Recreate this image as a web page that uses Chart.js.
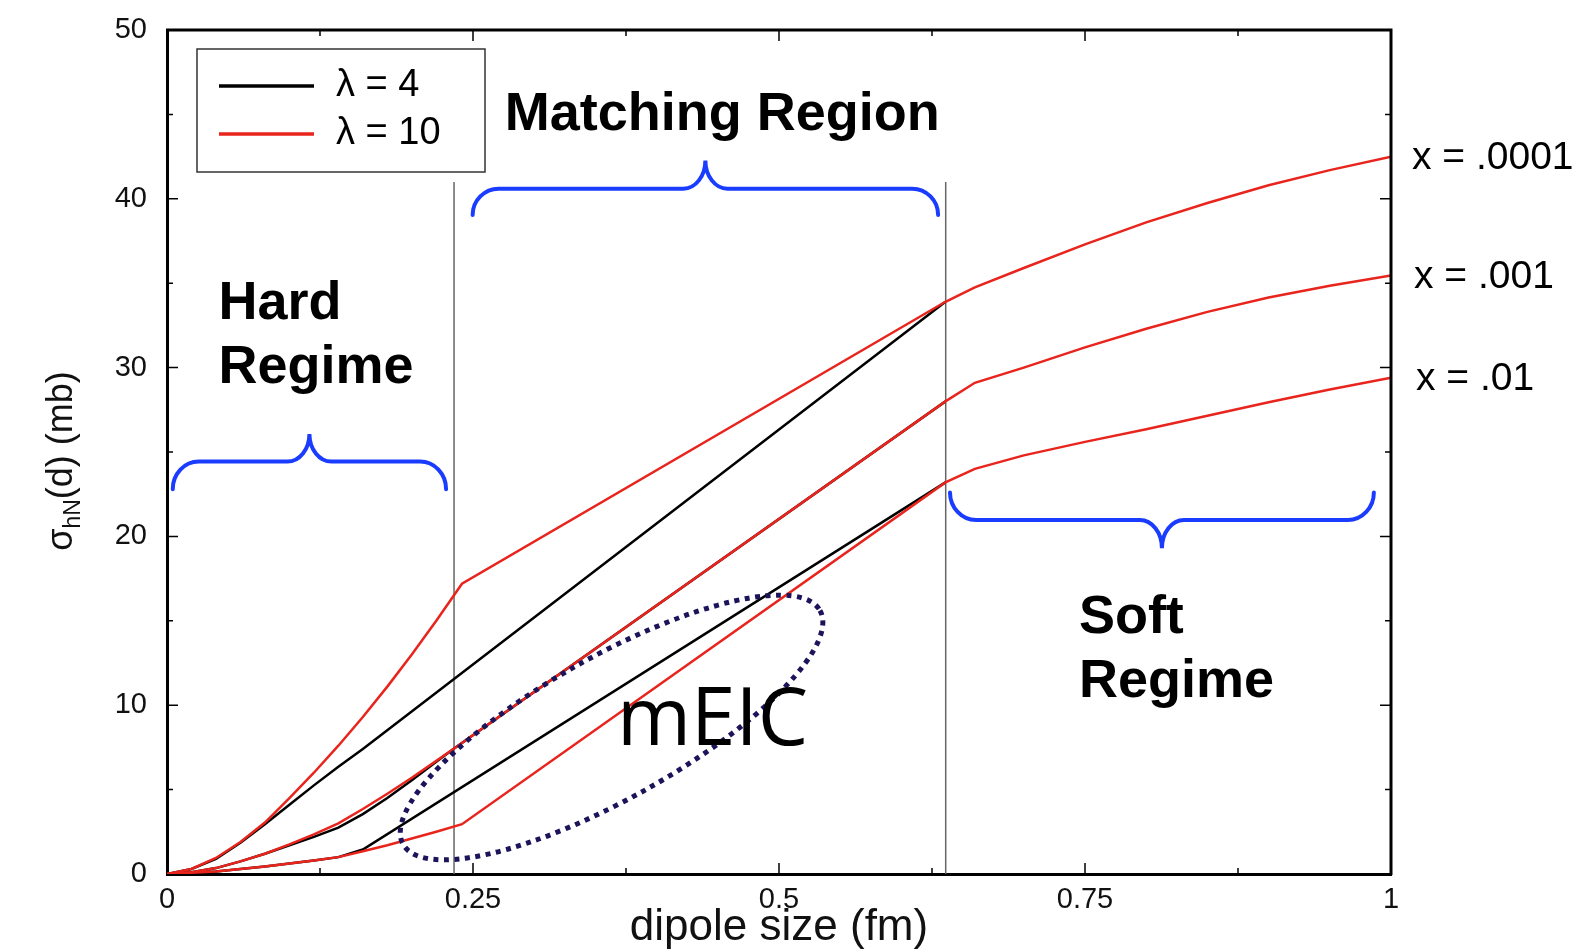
<!DOCTYPE html>
<html>
<head>
<meta charset="utf-8">
<script src="https://cdn.jsdelivr.net/npm/chart.js@4.4.1/dist/chart.umd.min.js"></script>
<style>
  body { margin: 0; background: #fff; }
  #wrap { width: 1593px; height: 951px; }
</style>
</head>
<body>
<div id="wrap"><canvas id="chartDipole"></canvas></div>
<script>
var chartDipole

// curve labels (right side) and legend labels
var xLabels = ['x = .0001', 'x = .001', 'x = .01'];
var lambdaLabels = ['\u03bb = 4', '\u03bb = 10'];

// lambda = 10 (red), one per x value
var redX1 = [0, 0.02, 0.04, 0.06, 0.08, 0.1, 0.12, 0.14, 0.16, 0.18, 0.2, 0.22, 0.241, 0.636, 0.66, 0.7, 0.75, 0.8, 0.85, 0.9, 0.95, 1];
var redY1 = [0, 0.3, 0.95, 1.9, 3.05, 4.5, 6.0, 7.6, 9.3, 11.1, 13.0, 15.0, 17.2, 33.9, 34.75, 35.9, 37.3, 38.6, 39.75, 40.8, 41.7, 42.5];
var redX2 = [0, 0.02, 0.04, 0.06, 0.08, 0.1, 0.12, 0.14, 0.16, 0.18, 0.2, 0.22, 0.234, 0.636, 0.66, 0.7, 0.75, 0.8, 0.85, 0.9, 0.95, 1];
var redY2 = [0, 0.1, 0.35, 0.75, 1.2, 1.75, 2.35, 3.0, 3.85, 4.75, 5.7, 6.7, 7.4, 28.0, 29.1, 30.0, 31.2, 32.3, 33.3, 34.15, 34.85, 35.45];
var redX3 = [0, 0.04, 0.08, 0.12, 0.14, 0.16, 0.18, 0.2, 0.22, 0.241, 0.636, 0.66, 0.7, 0.75, 0.8, 0.85, 0.9, 0.95, 1];
var redY3 = [0, 0.15, 0.45, 0.8, 1.0, 1.35, 1.7, 2.1, 2.5, 2.95, 23.2, 24.0, 24.8, 25.6, 26.35, 27.15, 27.95, 28.7, 29.4];

// lambda = 4 (black)
var blackX1 = [0, 0.02, 0.04, 0.06, 0.08, 0.1, 0.12, 0.14, 0.16, 0.636];
var blackY1 = [0, 0.3, 0.9, 1.85, 2.95, 4.1, 5.25, 6.35, 7.4, 33.9];
var blackX2 = [0, 0.02, 0.04, 0.06, 0.08, 0.1, 0.12, 0.14, 0.16, 0.18, 0.2, 0.22, 0.234, 0.636];
var blackY2 = [0, 0.1, 0.35, 0.75, 1.2, 1.7, 2.2, 2.75, 3.55, 4.5, 5.55, 6.65, 7.4, 28.0];
var blackX3 = [0, 0.04, 0.08, 0.12, 0.14, 0.16, 0.636];
var blackY3 = [0, 0.15, 0.45, 0.8, 1.0, 1.45, 23.2];

// region boundaries (dipole size) and how high the lines go
var regionBounds = [0.2345, 0.6362];
var regionLineTop = 41;

// braces in data units: x1, x2, end y, bar y, tip y
var braces = [
  [0.0047, 0.228, 22.8, 24.43, 26.07],
  [0.2497, 0.630, 39.04, 40.6, 42.27],
  [0.6397, 0.986, 22.6, 20.97, 19.3]
];

// annotation texts: text, x, baseline y
var boldNotes = [
  ['Matching Region', 0.276, 44.1],
  ['Hard', 0.042, 32.9],
  ['Regime', 0.042, 29.1],
  ['Soft', 0.745, 14.28],
  ['Regime', 0.745, 10.49]
];
var meicNote = ['mEIC', 0.3676, 7.64];
var meicCenter = [0.3632, 8.68];

var FONT = "'Liberation Sans', Arial, sans-serif";

function pts(xs, ys) {
  return xs.map(function(x, i) { return { x: x, y: ys[i] }; });
}

function brace(ctx, xs, ys, b) {
  var x1 = xs.getPixelForValue(b[0]);
  var x2 = xs.getPixelForValue(b[1]);
  var yEnd = ys.getPixelForValue(b[2]);
  var yBar = ys.getPixelForValue(b[3]);
  var yTip = ys.getPixelForValue(b[4]);
  var xm = (x1 + x2) / 2;
  var r = 26, t = 22, k = 0.55;
  ctx.beginPath();
  ctx.moveTo(x1, yEnd);
  ctx.bezierCurveTo(x1, yEnd + (yBar - yEnd) * k, x1 + r * (1 - k), yBar, x1 + r, yBar);
  ctx.lineTo(xm - t, yBar);
  ctx.bezierCurveTo(xm - t + t * k, yBar, xm, yTip + (yBar - yTip) * k, xm, yTip);
  ctx.bezierCurveTo(xm, yTip + (yBar - yTip) * k, xm + t - t * k, yBar, xm + t, yBar);
  ctx.lineTo(x2 - r, yBar);
  ctx.bezierCurveTo(x2 - r * (1 - k), yBar, x2, yEnd + (yBar - yEnd) * k, x2, yEnd);
  ctx.stroke();
}

var overlay = {
  id: 'overlay',
  afterDraw: function(chart) {
    var ctx = chart.ctx;
    var xs = chart.scales.x, ys = chart.scales.y;
    var area = chart.chartArea;
    ctx.save();

    // frame top / right
    ctx.strokeStyle = '#000';
    ctx.lineWidth = 3;
    ctx.beginPath();
    ctx.moveTo(area.left - 1, area.top);
    ctx.lineTo(area.right, area.top);
    ctx.lineTo(area.right, area.bottom + 1);
    ctx.stroke();

    // inward ticks on all sides
    ctx.lineWidth = 1.5;
    ctx.beginPath();
    for (var i = 1; i < 8; i++) {
      var px = xs.getPixelForValue(i / 8);
      var len = i % 2 == 0 ? 11 : 6;
      ctx.moveTo(px, area.bottom); ctx.lineTo(px, area.bottom - len);
      ctx.moveTo(px, area.top); ctx.lineTo(px, area.top + len);
    }
    for (var j = 1; j < 10; j++) {
      var py = ys.getPixelForValue(j * 5);
      var len2 = j % 2 == 0 ? 11 : 6;
      ctx.moveTo(area.left, py); ctx.lineTo(area.left + len2, py);
      ctx.moveTo(area.right, py); ctx.lineTo(area.right - len2, py);
    }
    ctx.stroke();

    // braces
    ctx.strokeStyle = '#1a3cff';
    ctx.lineWidth = 4;
    ctx.lineCap = 'round';
    braces.forEach(function(b) { brace(ctx, xs, ys, b); });

    // dotted ellipse round the mEIC reach
    ctx.strokeStyle = '#1c145a';
    ctx.lineWidth = 5;
    ctx.lineCap = 'butt';
    ctx.setLineDash([5, 5.5]);
    ctx.beginPath();
    ctx.ellipse(xs.getPixelForValue(meicCenter[0]), ys.getPixelForValue(meicCenter[1]), 239, 71, -29.3 * Math.PI / 180, 0, Math.PI * 2);
    ctx.stroke();
    ctx.setLineDash([]);

    // bold region notes
    ctx.fillStyle = '#000';
    ctx.textAlign = 'left';
    ctx.textBaseline = 'alphabetic';
    ctx.font = 'bold 54px ' + FONT;
    boldNotes.forEach(function(n) {
      ctx.fillText(n[0], xs.getPixelForValue(n[1]), ys.getPixelForValue(n[2]));
    });
    ctx.font = "80px 'Open Sans', 'Noto Sans', sans-serif";
    ctx.fillText(meicNote[0], xs.getPixelForValue(meicNote[1]), ys.getPixelForValue(meicNote[2]));

    // curve labels at right
    ctx.font = '39px ' + FONT;
    ctx.textBaseline = 'middle';
    var ends = [redY1[redY1.length - 1], redY2[redY2.length - 1], redY3[redY3.length - 1]];
    xLabels.forEach(function(t, k) {
      ctx.fillText(t, area.right + 21 + k * 2, ys.getPixelForValue(ends[k]) + 2);
    });

    // legend box
    var lx = area.left + 30, ly = area.top + 19;
    ctx.strokeStyle = '#333';
    ctx.lineWidth = 1.5;
    ctx.strokeRect(lx, ly, 288, 123);
    var colors = ['#000', '#e8241d'];
    ctx.lineWidth = 3.5;
    ctx.font = '38px ' + FONT;
    lambdaLabels.forEach(function(t, k) {
      var yy = ly + 37 + k * 48;
      ctx.strokeStyle = colors[k];
      ctx.beginPath();
      ctx.moveTo(lx + 22, yy); ctx.lineTo(lx + 117, yy);
      ctx.stroke();
      ctx.fillText(t, lx + 139, yy);
    });

    // y title with subscript
    ctx.translate(area.left - 95, (area.top + area.bottom) / 2 + 9);
    ctx.rotate(-Math.PI / 2);
    ctx.textBaseline = 'alphabetic';
    var big = '36px ' + FONT, small = '23px ' + FONT;
    ctx.font = big;
    var w1 = ctx.measureText('\u03c3').width;
    var w3 = ctx.measureText('(d) (mb)').width;
    ctx.font = small;
    var w2 = ctx.measureText('hN').width;
    var x0 = -(w1 + w2 + w3) / 2;
    ctx.font = big;
    ctx.fillStyle = '#111';
    ctx.fillText('\u03c3', x0, 0);
    ctx.font = small;
    ctx.fillText('hN', x0 + w1, 8);
    ctx.font = big;
    ctx.fillText('(d) (mb)', x0 + w1 + w2, 0);

    ctx.restore();
  }
};

function showChartDipole() {
  var ctx = document.getElementById('chartDipole').getContext('2d');

  chartDipole = new Chart(ctx, {
    type: 'line',
    data: {
      datasets: [
        { data: pts(redX1, redY1), borderColor: '#e8241d', order: 1 },
        { data: pts(redX2, redY2), borderColor: '#e8241d', order: 1 },
        { data: pts(redX3, redY3), borderColor: '#e8241d', order: 1 },
        { data: pts(blackX1, blackY1), borderColor: '#000', order: 2 },
        { data: pts(blackX2, blackY2), borderColor: '#000', order: 2 },
        { data: pts(blackX3, blackY3), borderColor: '#000', order: 2 },
        { data: pts([regionBounds[0], regionBounds[0]], [0, regionLineTop]), borderColor: '#666', borderWidth: 1.5, order: 3 },
        { data: pts([regionBounds[1], regionBounds[1]], [0, regionLineTop]), borderColor: '#666', borderWidth: 1.5, order: 3 }
      ]
    },
    options: {
      responsive: true,
      maintainAspectRatio: false,
      animation: false,
      layout: { padding: { left: 0, right: 202, top: 30, bottom: 0 } },
      elements: {
        point: { radius: 0 },
        line: { tension: 0, borderWidth: 2.5, fill: false }
      },
      plugins: {
        legend: { display: false },
        tooltip: { enabled: false }
      },
      scales: {
        x: {
          type: 'linear',
          min: 0,
          max: 1,
          afterFit: function(s) { s.height = 77; s.paddingLeft = 0; s.paddingRight = 0; },
          grid: { display: false, drawTicks: false },
          border: { display: true, width: 3, color: '#000' },
          ticks: {
            stepSize: 0.25,
            padding: 9,
            color: '#111',
            maxRotation: 0,
            font: { size: 29, family: FONT },
            callback: function(v) { return String(v); }
          },
          title: {
            display: true,
            text: 'dipole size (fm)',
            color: '#111',
            padding: 0,
            font: { size: 44, family: FONT, lineHeight: 1.05 }
          }
        },
        y: {
          min: 0,
          max: 50,
          afterFit: function(s) { s.width = 167; s.paddingTop = 0; s.paddingBottom = 0; },
          grid: { display: false, drawTicks: false },
          border: { display: true, width: 3, color: '#000' },
          ticks: {
            stepSize: 10,
            padding: 20,
            color: '#111',
            font: { size: 29, family: FONT }
          }
        }
      }
    },
    plugins: [overlay]
  });
}

showChartDipole();
</script>
</body>
</html>
